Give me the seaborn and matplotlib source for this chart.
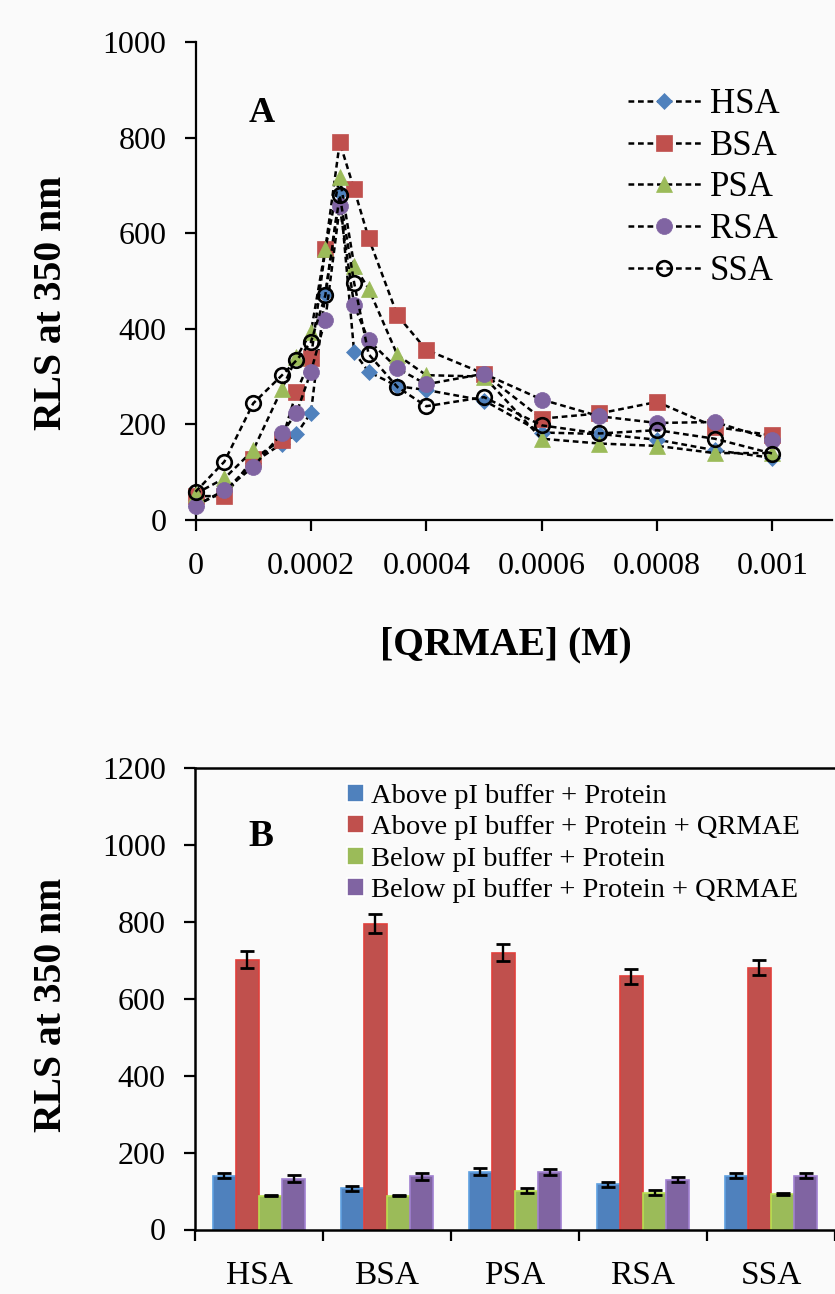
import matplotlib
matplotlib.use("Agg")
import matplotlib.pyplot as plt
import seaborn as sns
import pandas as pd

# ---------------- data: panel A ----------------
conc = [0, 0.00005, 0.0001, 0.00015, 0.000175, 0.0002, 0.000225, 0.00025, 0.000275,
        0.0003, 0.00035, 0.0004, 0.0005, 0.0006, 0.0007, 0.0008, 0.0009, 0.001]
hsa = [30, 60, 120, 160, 180, 224, 473, 685, 351, 310, 280, 272, 250, 183, 180, 168, 146, 130]
bsa = [50, 50, 128, 168, 268, 338, 567, 790, 692, 590, 428, 356, 306, 212, 223, 247, 195, 177]
psa = [55, 87, 146, 275, 340, 393, 567, 717, 532, 484, 345, 303, 300, 170, 160, 155, 140, 140]
rsa = [30, 62, 111, 182, 224, 310, 419, 656, 449, 376, 317, 284, 306, 252, 217, 203, 205, 168]
ssa = [59, 122, 244, 303, 334, 372, 470, 679, 496, 347, 278, 238, 257, 198, 181, 188, 170, 139]
series_names = ["HSA", "BSA", "PSA", "RSA", "SSA"]
xtick_vals = [0, 0.0002, 0.0004, 0.0006, 0.0008, 0.001]
xtick_labels = ["0", "0.0002", "0.0004", "0.0006", "0.0008", "0.001"]
ytickA = [0, 200, 400, 600, 800, 1000]

# ---------------- data: panel B ----------------
proteins = ["HSA", "BSA", "PSA", "RSA", "SSA"]
conditions = ["Above pI buffer + Protein",
              "Above pI buffer + Protein + QRMAE",
              "Below pI buffer + Protein",
              "Below pI buffer + Protein + QRMAE"]
above_prot = [140, 107, 150, 118, 140]
above_prot_err = [6, 6, 9, 6.5, 6.5]
above_qrmae = [701, 795, 720, 658, 681]
above_qrmae_err = [22, 25, 23, 20, 20]
below_prot = [88, 88, 101, 96, 93]
below_prot_err = [2, 2, 6.5, 6.5, 2]
below_qrmae = [132, 138, 150, 129, 140]
below_qrmae_err = [9.5, 8, 7, 6.5, 6.5]
ytickB = [0, 200, 400, 600, 800, 1000, 1200]

# ---------------- style ----------------
sns.set_style("ticks")
plt.rcParams['font.family'] = ['Liberation Serif', 'DejaVu Serif']
plt.rcParams['axes.linewidth'] = 1.6
for k in ['text.color', 'axes.labelcolor', 'xtick.color', 'ytick.color', 'axes.edgecolor']:
    plt.rcParams[k] = 'black'

W, H = 835, 1294
fig = plt.figure(figsize=(W / 100, H / 100), dpi=100, facecolor='#FAFAFA')

def fx(px):
    return px / W

def fy(py):
    return 1 - py / H

blue, red, green, purple = '#4F81BD', '#C0504D', '#9BBB59', '#8064A2'

# ---------------- panel A ----------------
axA = fig.add_axes([fx(195.5), fy(520), fx(832) - fx(195.5), fy(42) - fy(520)])
axA.set_facecolor('#FAFAFA')
styles = [
    (hsa, 'D', blue, blue, 7.8, 0.5),
    (bsa, 's', red, red, 11.0, 0.5),
    (psa, '^', green, green, 11.5, 0.5),
    (rsa, 'o', purple, purple, 11.5, 0.5),
    (ssa, 'o', 'none', 'black', 10.5, 1.9),
]
for i, (name, (vals, mk, fc, ec, ms, mew)) in enumerate(zip(series_names, styles)):
    sns.lineplot(x=conc, y=vals, ax=axA, color='black', linewidth=1.8,
                 linestyle=(0, (2.3, 1.5)), marker=mk, markersize=ms,
                 markerfacecolor=fc, markeredgecolor=ec, markeredgewidth=mew,
                 label=name, sort=False, zorder=3 + i, clip_on=False)

axA.set_xlim(0, 0.001 * (832 - 195.5) / 577)
axA.set_ylim(0, 1000)
axA.set_xticks(xtick_vals)
axA.set_xticklabels(xtick_labels)
axA.set_yticks(ytickA)
axA.tick_params(axis='both', labelsize=23, width=1.6, length=8, direction='out', color='black')
axA.tick_params(axis='x', pad=15)
axA.tick_params(axis='y', pad=13)
sns.despine(ax=axA)
axA.set_xlabel("[QRMAE] (M)", fontsize=28.5, fontweight='bold')
axA.xaxis.set_label_coords(fx(506), fy(626), transform=fig.transFigure)
axA.set_ylabel("RLS at 350 nm", fontsize=28.5, fontweight='bold')
axA.yaxis.set_label_coords(fx(70), fy(303), transform=fig.transFigure)
axA.text(fx(262), fy(113), "A", transform=fig.transFigure, fontsize=26,
         fontweight='bold', ha='center', va='center')
h, l = axA.get_legend_handles_labels()
axA.legend(h, l, loc='upper left', bbox_to_anchor=(fx(628), fy(88)),
           bbox_transform=fig.transFigure, frameon=False, fontsize=25,
           handlelength=2.1, handletextpad=0.25, labelspacing=0.25,
           borderpad=0, borderaxespad=0, numpoints=1)

# ---------------- panel B ----------------
rows = []
for c, vals in zip(conditions, [above_prot, above_qrmae, below_prot, below_qrmae]):
    for p, v in zip(proteins, vals):
        rows.append({"protein": p, "condition": c, "value": v})
dfB = pd.DataFrame(rows)
errs = [above_prot_err, above_qrmae_err, below_prot_err, below_qrmae_err]
edge_cols = ['#5FA0E0', '#E0403C', '#B8E050', '#A080D0']

axB = fig.add_axes([fx(195), fy(1229.5), 1 - fx(195), fy(768) - fy(1229.5)])
axB.set_facecolor('#FAFAFA')
sns.barplot(data=dfB, x="protein", y="value", hue="condition", order=proteins,
            hue_order=conditions, palette=[blue, red, green, purple],
            width=0.724, gap=0, errorbar=None, saturation=1, ax=axB,
            linewidth=1.2, zorder=2)
for cont, e, ecol in zip(axB.containers, errs, edge_cols):
    for bar, err in zip(cont, e):
        bar.set_edgecolor(ecol)
        axB.errorbar(bar.get_x() + bar.get_width() / 2, bar.get_height(), yerr=err,
                     fmt='none', ecolor='black', elinewidth=1.7, capsize=5.2,
                     capthick=2.0, zorder=4)

axB.set_xlim(-0.5, 4.5)
axB.set_ylim(0, 1200)
axB.set_yticks(ytickB)
axB.set_xlabel("")
axB.set_ylabel("RLS at 350 nm", fontsize=28.5, fontweight='bold')
axB.yaxis.set_label_coords(fx(70), fy(1005), transform=fig.transFigure)
axB.tick_params(axis='y', labelsize=23, width=1.6, length=8, direction='out', pad=13)
axB.tick_params(axis='x', which='major', labelsize=24, length=0, pad=22)
axB.set_xticks([-0.5, 0.5, 1.5, 2.5, 3.5, 4.5], minor=True)
axB.tick_params(axis='x', which='minor', length=8, width=1.6, direction='out')
for s in ['left', 'bottom', 'top']:
    axB.spines[s].set_visible(True)
    axB.spines[s].set_linewidth(1.8)
axB.spines['right'].set_visible(False)
axB.text(fx(261), fy(837), "B", transform=fig.transFigure, fontsize=27,
         fontweight='bold', ha='center', va='center')
hB, lB = axB.get_legend_handles_labels()
axB.legend(hB, lB, loc='upper left', bbox_to_anchor=(fx(347), fy(784)),
           bbox_transform=fig.transFigure, frameon=False, fontsize=20.5,
           handlelength=0.6, handleheight=0.6, handletextpad=0.25,
           labelspacing=0.22, borderpad=0, borderaxespad=0)

fig.savefig("out.png", dpi=100, facecolor=fig.get_facecolor())
